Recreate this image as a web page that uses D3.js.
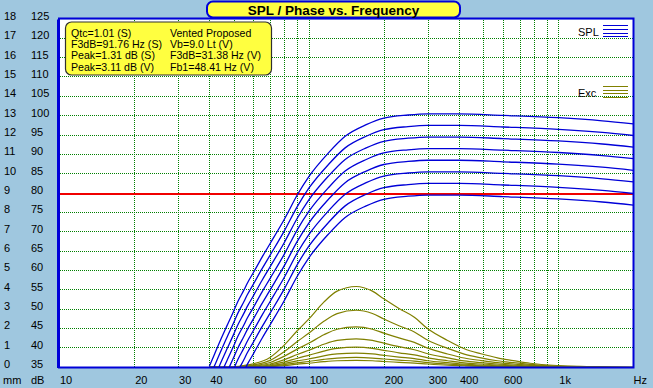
<!DOCTYPE html>
<html>
<head>
<meta charset="UTF-8">
<script src="https://d3js.org/d3.v7.min.js"></script>
<style>
  body { margin: 0; background: #9fc7df; }
  svg { display: block; font-family: Arial, "Liberation Sans", sans-serif; }
</style>
</head>
<body>
<svg id="chart"></svg>
<script>
width = 653;
height = 388;

// SPL curves (dB), one per drive level
splFreq = [40, 42, 45, 47, 50, 52, 55, 57, 60, 65, 70, 80, 90, 100, 120, 140, 170, 200, 250, 300, 400, 600, 1000, 1500, 2000];
spl1 = [35.3, 38.5, 43, 45.7, 49.5, 52, 55, 57, 59.5, 63.5, 67, 73.4, 79.6, 84.3, 90.5, 94.8, 97.8, 99.5, 100.3, 100.6, 100.6, 100.2, 99.6, 98.8, 98.0];
spl2 = [32.3, 35.5, 40, 42.7, 46.5, 49, 52, 54, 56.5, 60.5, 64, 70.4, 76.6, 81.3, 87.5, 91.8, 94.8, 96.5, 97.3, 97.6, 97.6, 97.2, 96.6, 95.8, 95.0];
spl3 = [29.3, 32.5, 37, 39.7, 43.5, 46, 49, 51, 53.5, 57.5, 61, 67.4, 73.6, 78.3, 84.5, 88.8, 91.8, 93.5, 94.3, 94.6, 94.6, 94.2, 93.6, 92.8, 92.0];
spl4 = [26.3, 29.5, 34, 36.7, 40.5, 43, 46, 48, 50.5, 54.5, 58, 64.4, 70.6, 75.3, 81.5, 85.8, 88.8, 90.5, 91.3, 91.6, 91.6, 91.2, 90.6, 89.8, 89.0];
spl5 = [23.3, 26.5, 31, 33.7, 37.5, 40, 43, 45, 47.5, 51.5, 55, 61.4, 67.6, 72.3, 78.5, 82.8, 85.8, 87.5, 88.3, 88.6, 88.6, 88.2, 87.6, 86.8, 86.0];
spl6 = [20.3, 23.5, 28, 30.7, 34.5, 37, 40, 42, 44.5, 48.5, 52, 58.4, 64.6, 69.3, 75.5, 79.8, 82.8, 84.5, 85.3, 85.6, 85.6, 85.2, 84.6, 83.8, 83.0];
spl7 = [17.3, 20.5, 25, 27.7, 31.5, 34, 37, 39, 41.5, 45.5, 49, 55.4, 61.6, 66.3, 72.5, 76.8, 79.8, 81.5, 82.3, 82.6, 82.6, 82.2, 81.6, 80.8, 80.0];
spl8 = [14.3, 17.5, 22, 24.7, 28.5, 31, 34, 36, 38.5, 42.5, 46, 52.4, 58.6, 63.3, 69.5, 73.8, 76.8, 78.5, 79.3, 79.6, 79.6, 79.2, 78.6, 77.8, 77.0];

// cone excursion (mm)
excFreq = [40, 48, 55, 60, 70, 80, 90, 100, 115, 130, 155, 180, 200, 230, 265, 300, 360, 420, 490, 570, 660, 770, 1000, 1300, 1650, 2000];
exc1 = [0.05, 0.02, 0.10, 0.19, 0.52, 1.17, 1.90, 2.50, 3.38, 3.95, 4.19, 3.95, 3.55, 3.05, 2.60, 2.00, 1.40, 0.97, 0.71, 0.50, 0.36, 0.22, 0.10, 0.05, 0.02, 0.01];
exc2 = [0.04, 0.01, 0.07, 0.13, 0.37, 0.83, 1.34, 1.77, 2.39, 2.79, 2.96, 2.79, 2.51, 2.16, 1.84, 1.41, 0.99, 0.69, 0.50, 0.35, 0.25, 0.16, 0.07, 0.04, 0.01, 0.01];
exc3 = [0.03, 0.01, 0.05, 0.10, 0.26, 0.59, 0.95, 1.25, 1.69, 1.98, 2.10, 1.98, 1.78, 1.53, 1.30, 1.00, 0.70, 0.49, 0.36, 0.25, 0.18, 0.11, 0.05, 0.03, 0.01, 0.01];
exc4 = [0.02, 0.01, 0.04, 0.07, 0.18, 0.41, 0.67, 0.89, 1.20, 1.40, 1.48, 1.40, 1.26, 1.08, 0.92, 0.71, 0.50, 0.34, 0.25, 0.18, 0.13, 0.08, 0.04, 0.02, 0.01, 0.00];
exc5 = [0.01, 0.01, 0.03, 0.05, 0.13, 0.29, 0.48, 0.63, 0.85, 0.99, 1.05, 0.99, 0.89, 0.76, 0.65, 0.50, 0.35, 0.24, 0.18, 0.13, 0.09, 0.06, 0.03, 0.01, 0.01, 0.00];
exc6 = [0.01, 0.00, 0.02, 0.03, 0.09, 0.21, 0.34, 0.44, 0.60, 0.70, 0.74, 0.70, 0.63, 0.54, 0.46, 0.35, 0.25, 0.17, 0.13, 0.09, 0.06, 0.04, 0.02, 0.01, 0.00, 0.00];
exc7 = [0.01, 0.00, 0.01, 0.02, 0.07, 0.15, 0.24, 0.31, 0.42, 0.49, 0.52, 0.49, 0.44, 0.38, 0.33, 0.25, 0.18, 0.12, 0.09, 0.06, 0.05, 0.03, 0.01, 0.01, 0.00, 0.00];
exc8 = [0.00, 0.00, 0.01, 0.02, 0.05, 0.10, 0.17, 0.22, 0.30, 0.35, 0.37, 0.35, 0.31, 0.27, 0.23, 0.18, 0.12, 0.09, 0.06, 0.04, 0.03, 0.02, 0.01, 0.00, 0.00, 0.00];

refLevel = 80;

dbTicks = [35, 40, 45, 50, 55, 60, 65, 70, 75, 80, 85, 90, 95, 100, 105, 110, 115, 120, 125];
mmTicks = [0, 1, 2, 3, 4, 5, 6, 7, 8, 9, 10, 11, 12, 13, 14, 15, 16, 17, 18];
freqTicks = [10, 20, 30, 40, 60, 80, 100, 200, 300, 400, 600, 1000];
freqLabels = ["10", "20", "30", "40", "60", "80", "100", "200", "300", "400", "600", "1k"];
freqGrid = [20, 30, 40, 50, 60, 70, 80, 90, 100, 200, 300, 400, 500, 600, 700, 800, 900, 1000];

infoLeft = ["Qtc=1.01 (S)", "F3dB=91.76 Hz (S)", "Peak=1.31 dB (S)", "Peak=3.11 dB (V)"];
infoRight = ["Vented Proposed", "Vb=9.0 Lt (V)", "F3dB=31.38 Hz (V)", "Fb1=48.41 Hz (V)"];

blue = "#0000d8";
olive = "#808000";
grid = "#008000";
yellow = "#ffff40";

svg = d3.select("#chart").attr("width", width).attr("height", height);

x = d3.scaleLog().domain([10, 2000]).range([59, 633.5]);
y = d3.scaleLinear().domain([35, 125]).range([367.5, 19.5]);
yMm = d3.scaleLinear().domain([0, 18]).range([367.5, 19.5]);

// plot area
svg.append("rect")
    .attr("x", x(10)).attr("y", y(125))
    .attr("width", x(2000) - x(10)).attr("height", y(35) - y(125))
    .attr("fill", "#fff");

svg.append("clipPath").attr("id", "clip")
  .append("rect")
    .attr("x", x(10)).attr("y", y(125))
    .attr("width", x(2000) - x(10)).attr("height", y(35) - y(125));

// grid, dotted
gridG = svg.append("g").attr("shape-rendering", "crispEdges");

gridG.selectAll("line.hg")
    .data(dbTicks.filter(d => d > 35 && d < 125 && d != refLevel))
    .enter().append("line")
        .attr("class", "hg")
        .attr("x1", 60).attr("x2", 633)
        .attr("y1", d => Math.round(y(d)) - 0.5).attr("y2", d => Math.round(y(d)) - 0.5)
        .attr("stroke", grid).attr("stroke-dasharray", "1,1");

gridG.selectAll("line.vg")
    .data(freqGrid)
    .enter().append("line")
        .attr("class", "vg")
        .attr("x1", d => Math.round(x(d)) + 0.5).attr("x2", d => Math.round(x(d)) + 0.5)
        .attr("y1", 20).attr("y2", 367)
        .attr("stroke", grid).attr("stroke-dasharray", "1,1");

svg.append("line")
    .attr("x1", x(10)).attr("x2", x(2000))
    .attr("y1", Math.round(y(refLevel))).attr("y2", Math.round(y(refLevel)))
    .attr("stroke", "#f00000").attr("stroke-width", 2);

curves = svg.append("g").attr("clip-path", "url(#clip)");

excLine = d3.line()
    .x((d, i) => x(excFreq[i]))
    .y(d => yMm(d))
    .curve(d3.curveMonotoneX);

curves.selectAll("path.exc")
    .data([exc8, exc7, exc6, exc5, exc4, exc3, exc2, exc1])
    .enter().append("path")
        .attr("class", "exc")
        .attr("d", excLine)
        .attr("fill", "none")
        .attr("stroke", olive).attr("stroke-width", 1.2);

splLine = d3.line()
    .x((d, i) => x(splFreq[i]))
    .y(d => y(d))
    .curve(d3.curveMonotoneX);

curves.selectAll("path.spl")
    .data([spl1, spl2, spl3, spl4, spl5, spl6, spl7, spl8])
    .enter().append("path")
        .attr("class", "spl")
        .attr("d", splLine)
        .attr("fill", "none")
        .attr("stroke", blue).attr("stroke-width", 1.3);

// frame
svg.append("path")
    .attr("d", "M" + (x(10) - 0.5) + "," + y(125) + "V" + (y(35) + 0.5))
    .attr("stroke", blue).attr("stroke-width", 3);
svg.append("rect")
    .attr("x", x(10)).attr("y", y(125) - 1)
    .attr("width", x(2000) - x(10)).attr("height", y(35) - y(125) + 1)
    .attr("fill", "none").attr("stroke", blue).attr("stroke-width", 2);

// axis labels
svg.selectAll("text.db")
    .data(dbTicks)
    .enter().append("text")
        .attr("class", "db")
        .attr("x", 31).attr("y", d => y(d) + 0.5)
        .attr("font-size", 11)
        .text(d => d);

svg.selectAll("text.mm")
    .data(mmTicks)
    .enter().append("text")
        .attr("class", "mm")
        .attr("x", 4).attr("y", d => yMm(d) + 0.5)
        .attr("font-size", 11)
        .text(d => d);

svg.append("text").attr("x", 3).attr("y", 384).attr("font-size", 11).text("mm");
svg.append("text").attr("x", 31).attr("y", 384).attr("font-size", 11).text("dB");

svg.selectAll("text.fx")
    .data(freqTicks)
    .enter().append("text")
        .attr("class", "fx")
        .attr("x", d => x(d) + 1).attr("y", 384)
        .attr("font-size", 11)
        .text((d, i) => freqLabels[i]);
svg.append("text").attr("x", x(2000)).attr("y", 384).attr("font-size", 11).text("Hz");

// title
svg.append("rect")
    .attr("x", 207).attr("y", 1.5).attr("width", 253).attr("height", 16)
    .attr("rx", 6)
    .attr("fill", yellow).attr("stroke", blue).attr("stroke-width", 2);
svg.append("text")
    .attr("x", 333.5).attr("y", 15)
    .attr("text-anchor", "middle")
    .attr("font-size", 13.5).attr("font-weight", "bold")
    .text("SPL / Phase vs. Frequency");

// info box
svg.append("rect")
    .attr("x", 65.5).attr("y", 22).attr("width", 206).attr("height", 53)
    .attr("rx", 6)
    .attr("fill", yellow).attr("stroke", "#303030").attr("stroke-width", 1.2);
svg.selectAll("text.il")
    .data(infoLeft)
    .enter().append("text")
        .attr("x", 71).attr("y", (d, i) => 36.5 + i * 11.4)
        .attr("font-size", 10.6)
        .text(d => d);
svg.selectAll("text.ir")
    .data(infoRight)
    .enter().append("text")
        .attr("x", 170).attr("y", (d, i) => 36.5 + i * 11.4)
        .attr("font-size", 10.6)
        .text(d => d);

// legend
legend = [["SPL", blue, 25.3], ["Exc", olive, 86]];
legend.forEach(function (l) {
    svg.append("text")
        .attr("x", 578).attr("y", l[2] + 10.5)
        .attr("font-size", 11)
        .text(l[0]);
    [0, 1, 2, 3].forEach(function (k) {
        svg.append("line")
            .attr("x1", 603).attr("x2", 628)
            .attr("y1", Math.round(l[2] + k * 3.6) + 0.5).attr("y2", Math.round(l[2] + k * 3.6) + 0.5)
            .attr("stroke", l[1]).attr("stroke-width", 1);
    });
});
</script>
</body>
</html>
